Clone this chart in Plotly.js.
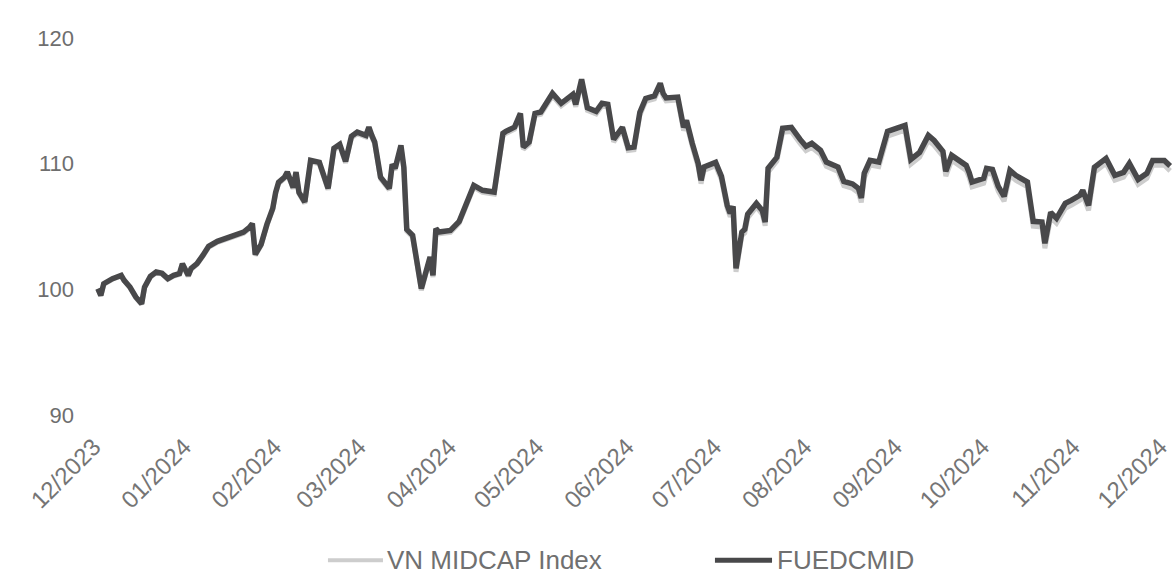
<!DOCTYPE html>
<html>
<head>
<meta charset="utf-8">
<script src="https://cdn.plot.ly/plotly-3.0.1.min.js"></script>
<style>html,body{margin:0;padding:0;background:#fff;overflow:hidden;}#chart{width:1176px;height:575px;}</style>
</head>
<body>
<div id="chart"></div>
<script>
const dates = [
"2023-11-30","2023-12-01","2023-12-02","2023-12-05","2023-12-08","2023-12-09","2023-12-11","2023-12-13","2023-12-15","2023-12-16",
"2023-12-18","2023-12-20","2023-12-22","2023-12-24","2023-12-26","2023-12-28","2023-12-29","2023-12-31","2024-01-01","2024-01-03",
"2024-01-05","2024-01-07","2024-01-10","2024-01-14","2024-01-19","2024-01-21","2024-01-22","2024-01-23","2024-01-25","2024-01-27",
"2024-01-28","2024-01-29","2024-01-30","2024-01-31","2024-02-02","2024-02-03","2024-02-05","2024-02-06","2024-02-07","2024-02-09",
"2024-02-11","2024-02-14","2024-02-17","2024-02-19","2024-02-21","2024-02-23","2024-02-25","2024-02-27","2024-03-01","2024-03-02",
"2024-03-03","2024-03-04","2024-03-06","2024-03-09","2024-03-10","2024-03-11","2024-03-13","2024-03-14","2024-03-15","2024-03-17",
"2024-03-20","2024-03-22","2024-03-23","2024-03-24","2024-03-25","2024-03-26","2024-03-30","2024-04-02","2024-04-05","2024-04-07",
"2024-04-10","2024-04-14","2024-04-17","2024-04-18","2024-04-21","2024-04-23","2024-04-24","2024-04-26","2024-04-28","2024-04-30",
"2024-05-04","2024-05-07","2024-05-11","2024-05-12","2024-05-14","2024-05-16","2024-05-19","2024-05-21","2024-05-23","2024-05-25",
"2024-05-28","2024-05-30","2024-06-01","2024-06-03","2024-06-05","2024-06-08","2024-06-10","2024-06-11","2024-06-12","2024-06-16",
"2024-06-18","2024-06-19","2024-06-21","2024-06-23","2024-06-24","2024-06-25","2024-06-29","2024-07-01","2024-07-03","2024-07-04",
"2024-07-05","2024-07-06","2024-07-08","2024-07-09","2024-07-10","2024-07-13","2024-07-15","2024-07-16","2024-07-17","2024-07-20",
"2024-07-22","2024-07-25","2024-07-28","2024-07-30","2024-08-01","2024-08-04","2024-08-06","2024-08-10","2024-08-12","2024-08-15",
"2024-08-17","2024-08-18","2024-08-19","2024-08-21","2024-08-24","2024-08-27","2024-08-30","2024-09-02","2024-09-04","2024-09-07",
"2024-09-10","2024-09-12","2024-09-15","2024-09-16","2024-09-18","2024-09-21","2024-09-23","2024-09-24","2024-09-25","2024-09-29",
"2024-09-30","2024-10-02","2024-10-04","2024-10-06","2024-10-08","2024-10-10","2024-10-14","2024-10-16","2024-10-19","2024-10-20",
"2024-10-22","2024-10-24","2024-10-27","2024-10-29","2024-11-01","2024-11-02","2024-11-04","2024-11-06","2024-11-10","2024-11-13",
"2024-11-16","2024-11-18","2024-11-21","2024-11-24","2024-11-26","2024-11-30","2024-12-02"
];

const fuedcmid = [
100.06,99.52,100.45,100.85,101.11,100.72,100.18,99.39,98.86,100.18,
101.03,101.38,101.27,100.85,101.11,101.25,102.04,101.11,101.67,102.04,
102.70,103.42,103.82,104.16,104.56,104.93,105.23,102.78,103.58,105.17,
105.97,106.44,107.72,108.51,108.91,109.33,108.11,109.33,107.72,106.95,
110.26,110.10,108.04,111.22,111.54,110.18,112.17,112.51,112.25,112.91,
112.25,111.72,108.93,108.04,109.94,109.63,111.46,109.71,104.77,104.30,
100.06,101.83,102.57,101.11,104.83,104.56,104.69,105.41,107.08,108.27,
107.88,107.74,112.41,112.57,112.91,114.00,111.32,111.72,114.00,114.11,
115.59,114.80,115.51,114.72,116.71,114.44,114.16,114.80,114.72,111.93,
112.89,111.26,111.32,114.08,115.19,115.39,116.39,115.59,115.23,115.30,
112.89,113.44,111.61,110.02,108.67,109.73,110.10,108.99,106.68,106.05,
106.60,101.67,104.56,104.77,105.97,106.84,106.28,105.35,109.63,110.50,
112.81,112.89,111.93,111.38,111.62,111.06,110.13,109.73,108.59,108.39,
108.04,107.28,109.23,110.26,110.13,112.57,112.81,113.05,110.34,110.90,
112.25,111.85,110.98,109.39,110.66,110.18,109.86,109.31,108.54,108.83,
109.63,109.55,108.19,107.40,109.47,109.07,108.54,105.41,105.35,103.66,
106.13,105.65,106.84,107.08,107.48,107.88,106.68,109.71,110.42,109.07,
109.31,110.02,108.75,109.23,110.26,110.26,109.82
];

const vnMidcap = [
100.02,99.48,100.40,100.80,101.06,100.67,100.13,99.33,98.80,100.12,
100.97,101.32,101.21,100.79,101.05,101.19,101.97,101.04,101.60,101.97,
102.62,103.34,103.74,104.08,104.47,104.84,105.14,102.69,103.49,105.08,
105.88,106.35,107.62,108.41,108.80,109.22,108.00,109.22,107.61,106.84,
110.14,109.98,107.92,111.10,111.42,110.06,112.04,112.38,112.12,112.78,
112.12,111.59,108.80,107.91,109.81,109.50,111.32,109.57,104.63,104.16,
99.92,101.69,102.43,100.97,104.68,104.41,104.54,105.26,106.92,108.11,
107.72,107.58,112.24,112.40,112.74,113.82,111.14,111.54,113.82,113.93,
115.40,114.61,115.32,114.53,116.51,114.24,113.96,114.60,114.52,111.73,
112.68,111.05,111.11,113.86,114.96,115.16,116.15,115.35,114.99,115.06,
112.64,113.19,111.36,109.76,108.41,109.46,109.83,108.72,106.41,105.78,
106.32,101.39,104.27,104.48,105.68,106.55,105.99,105.06,109.32,110.19,
112.49,112.56,111.60,111.04,111.28,110.72,109.78,109.38,108.24,108.03,
107.68,106.92,108.87,109.89,109.76,112.19,112.43,112.67,109.96,110.52,
111.86,111.46,110.59,109.00,110.27,109.79,109.47,108.92,108.15,108.44,
109.24,109.16,107.80,107.01,109.08,108.68,108.15,105.02,104.96,103.27,
105.74,105.26,106.45,106.69,107.09,107.49,106.29,109.32,110.03,108.68,
108.92,109.63,108.36,108.84,109.87,109.87,109.43
];

const yTicks = [90, 100, 110, 120];
const seriesNames = ["VN MIDCAP Index", "FUEDCMID"];
const seriesColors = ["#cdcdcd", "#48484a"];

const traces = [
  {
    x: dates, y: vnMidcap, name: seriesNames[0], type: "scatter", mode: "lines",
    line: {color: seriesColors[0], width: 5}, showlegend: false
  },
  {
    x: dates, y: fuedcmid, name: seriesNames[1], type: "scatter", mode: "lines",
    line: {color: seriesColors[1], width: 5.5}, showlegend: false
  }
];

// legend drawn as paper-positioned shapes + annotations (plot area: l=95, w=1081, t=38, h=377)
const legY = -0.385;
const legendItems = [
  {x0: 0.2155, x1: 0.2664, tx: 0.2683, width: 4},
  {x0: 0.5735, x1: 0.6263, tx: 0.6290, width: 5}
];

const shapes = legendItems.map((it, i) => ({
  type: "line", xref: "paper", yref: "paper",
  x0: it.x0, x1: it.x1, y0: legY, y1: legY,
  line: {color: seriesColors[i], width: it.width}
}));

const annotations = legendItems.map((it, i) => ({
  xref: "paper", yref: "paper", x: it.tx, y: legY,
  xanchor: "left", yanchor: "middle", showarrow: false,
  text: seriesNames[i], font: {size: 26, color: "#707070"}
}));

const layout = {
  width: 1176, height: 575,
  margin: {l: 95, r: 0, t: 38, b: 160},
  paper_bgcolor: "#ffffff", plot_bgcolor: "#ffffff",
  font: {family: "Liberation Sans, Arial, sans-serif", color: "#6e6e6e", size: 22},
  showlegend: false,
  shapes: shapes,
  annotations: annotations,
  xaxis: {
    type: "date", range: ["2023-11-29", "2024-12-04"],
    tick0: "2023-12-01", dtick: "M1", tickformat: "%m/%Y", tickangle: -45,
    showgrid: false, zeroline: false, showline: false, ticks: "",
    ticklabeloverflow: "allow", ticklabelstandoff: 12, ticklabelshift: -7,
    tickfont: {size: 24, color: "#757575"}, automargin: false
  },
  yaxis: {
    range: [90, 120], tickvals: yTicks, ticktext: yTicks.map(String),
    showgrid: false, zeroline: false, showline: false, ticks: "",
    ticklabelstandoff: 20,
    tickfont: {size: 22, color: "#6e6e6e"}, automargin: false
  }
};

Plotly.newPlot("chart", traces, layout, {staticPlot: true, displayModeBar: false});
</script>
</body>
</html>
